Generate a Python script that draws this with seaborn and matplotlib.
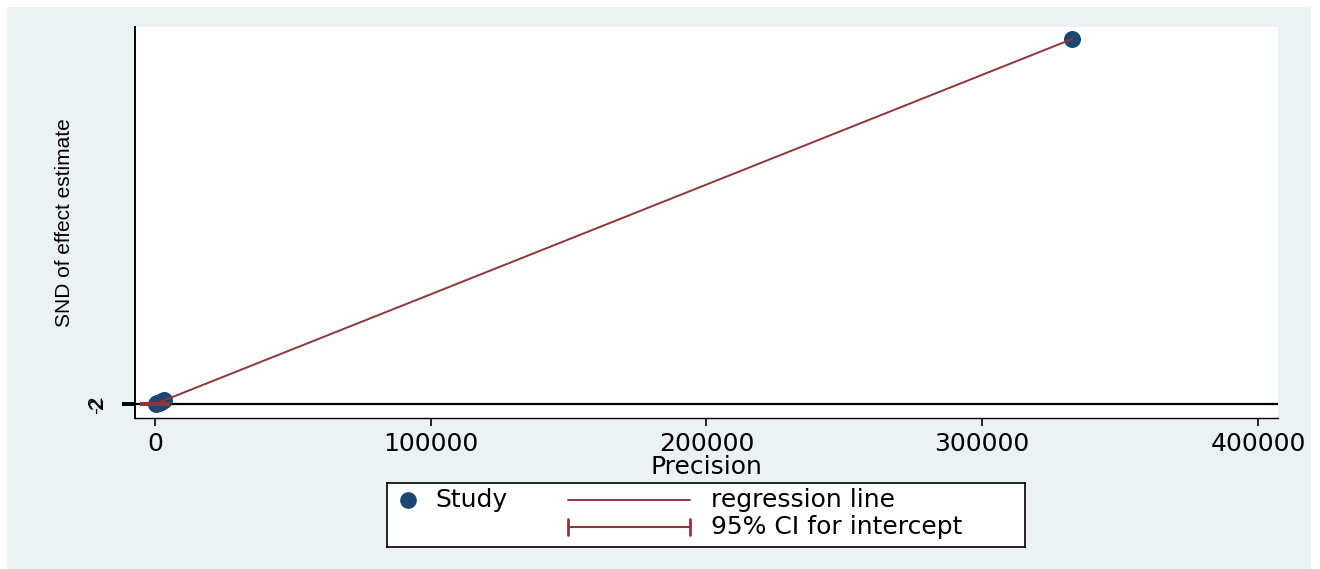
import numpy as np
import pandas as pd
import matplotlib
matplotlib.use("Agg")
import matplotlib.pyplot as plt
from matplotlib.patches import Rectangle
import seaborn as sns

# ---- data ----
precision = [300, 700, 1100, 1500, 2000, 2600, 3300, 332600]
snd = [0.8, 1.5, 2.9, 3.6, 5.4, 7.5, 9.8, 1000.0]
reg_intercept = 0.0
reg_slope = 1000.0 / 332600
ci_intercept = [-3.0, 3.0]
x_ticks = [0, 100000, 200000, 300000, 400000]
x_ticklabels = ["0", "100000", "200000", "300000", "400000"]
y_ticks = [-2, 2]
y_ticklabels = ["-2", "2"]

NAVY = "#1a476f"
MAROON = "#90353b"
BG = "#eaf2f3"

sns.set_theme(style="white")
plt.rcParams["font.family"] = ["DejaVu Sans"]
plt.rcParams["text.color"] = "black"
plt.rcParams["axes.labelcolor"] = "black"
plt.rcParams["xtick.color"] = "black"
plt.rcParams["ytick.color"] = "black"

W, H = 1320, 569
fig = plt.figure(figsize=(W / 100, H / 100), dpi=100, facecolor="white")
fig.patches.append(Rectangle((7 / W, 0), (1311 - 7) / W, (H - 7) / H,
                             transform=fig.transFigure, facecolor=BG,
                             edgecolor="none", zorder=-10))

ax = fig.add_axes([135 / W, (H - 418) / H, (1278 - 135) / W, (418 - 27) / H])
ax.set_facecolor("white")

df = pd.DataFrame({"Precision": precision, "SND": snd})
xl = np.array([0.0, max(precision)])
line_df = pd.DataFrame({"x": xl, "y": reg_intercept + reg_slope * xl})

# zero line
ax.axhline(0, color="black", lw=1.6, zorder=1)
# CI for intercept
ax.errorbar([0], [reg_intercept],
            yerr=[[reg_intercept - ci_intercept[0]], [ci_intercept[1] - reg_intercept]],
            fmt="none", ecolor=MAROON, capsize=10.8, elinewidth=1.5, capthick=1.5, zorder=3)
sns.scatterplot(data=df, x="Precision", y="SND", ax=ax, color=NAVY, s=150,
                edgecolor=NAVY, linewidth=0, zorder=2, legend=False)
sns.lineplot(data=line_df, x="x", y="y", ax=ax, color=MAROON, lw=1.4,
             zorder=4, legend=False)

ax.set_xlim(-7253, 407260)
ax.set_ylim(-38.4, 1033)

ax.set_xticks(x_ticks)
ax.set_xticklabels(x_ticklabels, fontsize=18, color="black")
ax.set_yticks(y_ticks)
ax.set_yticklabels(y_ticklabels, fontsize=15, rotation=90, va="center",
                   family="Liberation Sans", color="black")
ax.tick_params(axis="x", direction="out", length=6, width=1.2, color="black",
               bottom=True, pad=4)
ax.tick_params(axis="y", direction="out", length=9.5, width=1.4, color="black",
               left=True, pad=11)

for s in ["top", "right"]:
    ax.spines[s].set_visible(False)
ax.spines["left"].set_color("black")
ax.spines["left"].set_linewidth(1.4)
ax.spines["bottom"].set_color("black")
ax.spines["bottom"].set_linewidth(1.0)

ax.set_xlabel("Precision", fontsize=18, color="black", labelpad=-1)
ax.set_ylabel("SND of effect estimate", fontsize=15, family="Liberation Sans",
              color="black", labelpad=10)

# ---- legend box ----
lx0, ly0, lx1, ly1 = 387, 483, 1025, 547
lax = fig.add_axes([lx0 / W, (H - ly1) / H, (lx1 - lx0) / W, (ly1 - ly0) / H])
lax.set_xlim(0, lx1 - lx0)
lax.set_ylim(ly1 - ly0, 0)
lax.set_xticks([])
lax.set_yticks([])
lax.set_facecolor("white")
for s in lax.spines.values():
    s.set_color("black")
    s.set_linewidth(1.2)
r1, r2 = 17, 44
lax.plot([21], [r1], "o", color=NAVY, ms=11, mec=NAVY)
lax.text(48, r1, "Study", fontsize=18, va="center", ha="left", color="black")
lax.plot([181, 303], [r1, r1], color=MAROON, lw=1.4)
lax.text(324, r1, "regression line", fontsize=18, va="center", ha="left", color="black")
lax.plot([181, 303], [r2, r2], color=MAROON, lw=1.5)
lax.plot([181, 181], [r2 - 8, r2 + 8], color=MAROON, lw=2)
lax.plot([303, 303], [r2 - 8, r2 + 8], color=MAROON, lw=2)
lax.text(324, r2, "95% CI for intercept", fontsize=18, va="center", ha="left", color="black")

fig.savefig("out.png", dpi=100, facecolor="white")
